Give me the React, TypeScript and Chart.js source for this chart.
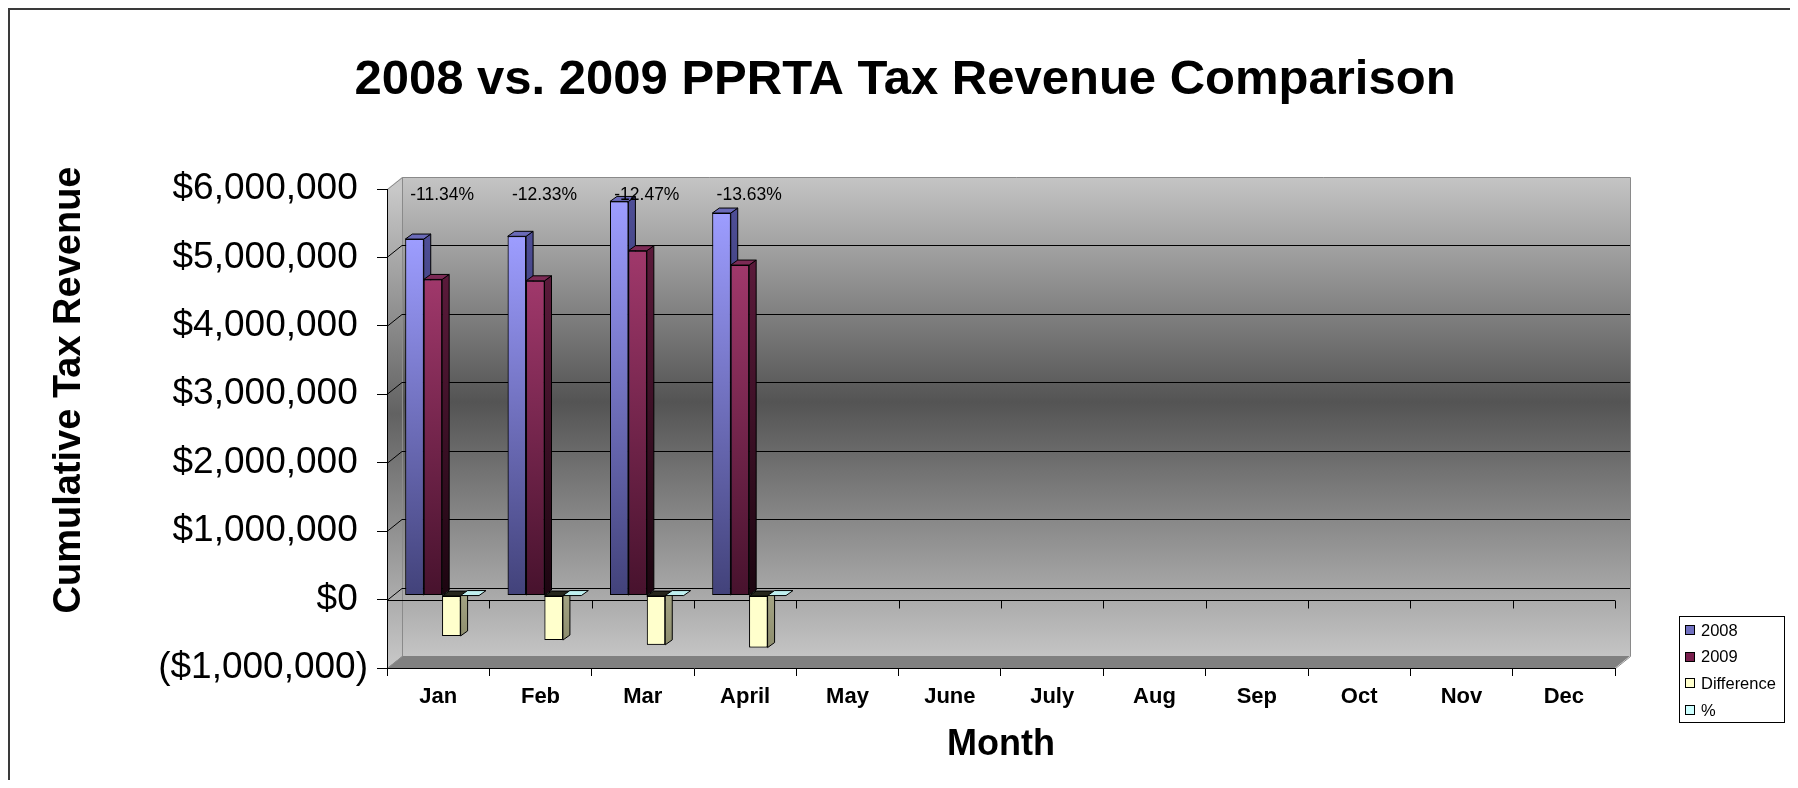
import React, { useEffect, useRef } from 'react';
import { Chart, registerables } from 'chart.js';

Chart.register(...registerables);

const FONT = '"Liberation Sans", Arial, Helvetica, sans-serif';

// ---------- data ----------
const months = ['Jan', 'Feb', 'Mar', 'April', 'May', 'June', 'July', 'Aug', 'Sep', 'Oct', 'Nov', 'Dec'];
const revenue2008 = [5210000, 5250000, 5760000, 5590000, null, null, null, null, null, null, null, null];
const revenue2009 = [4620000, 4600000, 5040000, 4830000, null, null, null, null, null, null, null, null];
const difference = [-590000, -650000, -720000, -760000, null, null, null, null, null, null, null, null];
const percentChange = [-11.34, -12.33, -12.47, -13.63, null, null, null, null, null, null, null, null];
const seriesLabels = ['2008', '2009', 'Difference', '%'];
const yMin = -1000000;
const yMax = 6000000;
const yStep = 1000000;
const chartTitle = '2008 vs. 2009 PPRTA Tax Revenue Comparison';
const yTitle = 'Cumulative Tax Revenue';
const xTitle = 'Month';

// ---------- styles ----------
const DX = 15; // wall depth (px)
const DY = -12;
const BDX = 4; // bar front-face depth shift
const BDY = -4;
const BAR_DX = 7; // bar thickness
const BAR_DY = -5;

const seriesStyles = [
  { front: ['#9d9dff', '#42427a'], side: ['#4e4e96', '#1a1a36'], top: '#6a6ab8', legend: '#7070c0' },
  { front: ['#a0386b', '#47122d'], side: ['#5a1a3a', '#1c0510'], top: '#7c2a55', legend: '#7a1f4d' },
  { front: ['#ffffcc', '#ffffcc'], side: ['#a3a383', '#8e8e6e'], top: '#26261c', legend: '#ffffcc' },
  { front: ['#ccffff', '#ccffff'], side: ['#88aaaa', '#88aaaa'], top: '#bff0f0', legend: '#ccffff' },
];

function frontGradient(idx: number) {
  const [light, dark] = seriesStyles[idx].front;
  return (c: any) => {
    const chart = c.chart;
    if (!chart.chartArea || c.type !== 'data' || c.raw == null) return light;
    const ys = chart.scales.y;
    const yt = ys.getPixelForValue(Math.max(c.raw, 0));
    const yb = ys.getPixelForValue(Math.min(c.raw, 0));
    if (Math.abs(yb - yt) < 1) return light;
    const g = chart.ctx.createLinearGradient(0, yt, 0, yb);
    g.addColorStop(0, light);
    g.addColorStop(1, dark);
    return g;
  };
}

function fmtMoney(v: number) {
  const s = Math.abs(v).toLocaleString('en-US');
  return v < 0 ? '($' + s + ')' : '$' + s + ' ';
}

function drawFaces(ctx: CanvasRenderingContext2D, el: any, style: any) {
  const { x, y, base, width } = el.getProps(['x', 'y', 'base', 'width'], true);
  if (!isFinite(y) || !isFinite(base)) return;
  const l = x - width / 2;
  const r = x + width / 2;
  const t = Math.min(y, base);
  const b = Math.max(y, base);
  ctx.lineWidth = 1;
  ctx.strokeStyle = '#000';
  if (b - t > 0.5) {
    const g = ctx.createLinearGradient(0, t, 0, b);
    g.addColorStop(0, style.side[0]);
    g.addColorStop(1, style.side[1]);
    ctx.fillStyle = g;
    ctx.beginPath();
    ctx.moveTo(r, t);
    ctx.lineTo(r + BAR_DX, t + BAR_DY);
    ctx.lineTo(r + BAR_DX, b + BAR_DY);
    ctx.lineTo(r, b);
    ctx.closePath();
    ctx.fill();
    ctx.stroke();
  }
  ctx.fillStyle = style.top;
  ctx.beginPath();
  ctx.moveTo(l, t);
  ctx.lineTo(l + BAR_DX, t + BAR_DY);
  ctx.lineTo(r + BAR_DX, t + BAR_DY);
  ctx.lineTo(r, t);
  ctx.closePath();
  ctx.fill();
  ctx.stroke();
}

const wallPlugin = {
  id: 'wall3d',
  beforeDraw(chart: any) {
    const { ctx, chartArea: a, scales } = chart;
    const ys = scales.y;
    ctx.save();
    // outer frame
    ctx.strokeStyle = '#3a3a3a';
    ctx.lineWidth = 2;
    ctx.strokeRect(1, 1, chart.width - 2, chart.height - 2);

    // back wall
    const g = ctx.createLinearGradient(0, a.top + DY, 0, a.bottom + DY);
    g.addColorStop(0, '#c4c4c4');
    g.addColorStop(0.47, '#545454');
    g.addColorStop(1, '#c4c4c4');
    ctx.fillStyle = g;
    ctx.fillRect(a.left + DX, a.top + DY, a.right - a.left, a.bottom - a.top);

    // left side wall
    const g2 = ctx.createLinearGradient(0, a.top, 0, a.bottom);
    g2.addColorStop(0, '#c8c8c8');
    g2.addColorStop(0.47, '#626262');
    g2.addColorStop(1, '#c8c8c8');
    ctx.fillStyle = g2;
    ctx.beginPath();
    ctx.moveTo(a.left, a.top);
    ctx.lineTo(a.left + DX, a.top + DY);
    ctx.lineTo(a.left + DX, a.bottom + DY);
    ctx.lineTo(a.left, a.bottom);
    ctx.closePath();
    ctx.fill();

    // floor
    ctx.fillStyle = '#808080';
    ctx.beginPath();
    ctx.moveTo(a.left, a.bottom);
    ctx.lineTo(a.left + DX, a.bottom + DY);
    ctx.lineTo(a.right + DX, a.bottom + DY);
    ctx.lineTo(a.right, a.bottom);
    ctx.closePath();
    ctx.fill();

    // wall edges
    ctx.strokeStyle = '#8a8a8a';
    ctx.lineWidth = 1;
    ctx.beginPath();
    ctx.moveTo(a.left + 0.5, a.top + 0.5);
    ctx.lineTo(a.left + DX + 0.5, a.top + DY + 0.5);
    ctx.lineTo(a.right + DX + 0.5, a.top + DY + 0.5);
    ctx.lineTo(a.right + DX + 0.5, a.bottom + DY + 0.5);
    ctx.lineTo(a.right + 0.5, a.bottom + 0.5);
    ctx.moveTo(a.left + DX + 0.5, a.top + DY + 0.5);
    ctx.lineTo(a.left + DX + 0.5, a.bottom + DY + 0.5);
    ctx.lineTo(a.left + 0.5, a.bottom + 0.5);
    ctx.stroke();

    // gridlines on side and back walls
    ctx.strokeStyle = '#000';
    ctx.beginPath();
    ys.ticks.forEach((t: any) => {
      if (t.value <= yMin || t.value >= yMax) return;
      const py = Math.round(ys.getPixelForValue(t.value)) + 0.5;
      ctx.moveTo(a.left, py);
      ctx.lineTo(a.left + DX, py + DY);
      ctx.lineTo(a.right + DX, py + DY);
    });
    ctx.stroke();

    // chart title
    ctx.fillStyle = '#000';
    ctx.font = `bold 49px ${FONT}`;
    ctx.textAlign = 'center';
    ctx.textBaseline = 'middle';
    ctx.fillText(chartTitle, chart.width / 2, 72);

    // y axis title
    ctx.font = `bold 38px ${FONT}`;
    ctx.translate(62, 382);
    ctx.rotate(-Math.PI / 2);
    ctx.fillText(yTitle, 0, 0);
    ctx.restore();
  },
  beforeDatasetsDraw(chart: any) {
    const { ctx, chartArea: a, scales } = chart;
    const ys = scales.y;
    const xs = scales.x;
    ctx.save();
    // front zero axis with category ticks
    const y0 = Math.round(ys.getPixelForValue(0)) + 0.5;
    ctx.strokeStyle = '#000';
    ctx.lineWidth = 1;
    ctx.beginPath();
    ctx.moveTo(a.left, y0);
    ctx.lineTo(a.right, y0);
    const n = chart.data.labels.length;
    const cw = (xs.right - xs.left) / n;
    for (let i = 0; i <= n; i++) {
      const bx = Math.round(xs.left + i * cw) + 0.5;
      ctx.moveTo(bx, y0);
      ctx.lineTo(bx, y0 + 8);
    }
    ctx.stroke();
    ctx.restore();
    ctx.save();
    ctx.translate(BDX, BDY);
  },
  afterDatasetsDraw(chart: any) {
    const { ctx } = chart;
    // redraw in left-to-right order so that each column hides the sides of its left neighbour
    const metas = chart.data.datasets.map((_: any, i: number) => chart.getDatasetMeta(i));
    const n = chart.data.labels.length;
    for (let c = 0; c < n; c++) {
      metas.forEach((meta: any, j: number) => {
        if (chart.data.datasets[j].data[c] == null) return;
        const el = meta.data[c];
        if (!el) return;
        ctx.save();
        el.draw(ctx);
        ctx.restore();
        ctx.save();
        drawFaces(ctx, el, seriesStyles[j]);
        ctx.restore();
      });
    }
    ctx.restore();
  },
  afterDraw(chart: any) {
    const { ctx, chartArea: a, scales } = chart;
    const xs = scales.x;
    // percent labels
    ctx.save();
    ctx.fillStyle = '#000';
    ctx.font = `17.5px ${FONT}`;
    ctx.textAlign = 'center';
    ctx.textBaseline = 'middle';
    percentChange.forEach((p, i) => {
      if (p == null) return;
      ctx.fillText(p.toFixed(2) + '%', xs.getPixelForValue(i) + BDX, a.top + 6);
    });
    ctx.restore();

    // legend
    ctx.save();
    const lx = 1671;
    const ly = 608;
    ctx.fillStyle = '#fff';
    ctx.fillRect(lx, ly, 105, 106);
    ctx.strokeStyle = '#000';
    ctx.lineWidth = 1;
    ctx.strokeRect(lx + 0.5, ly + 0.5, 105, 106);
    ctx.font = `16.5px ${FONT}`;
    ctx.textBaseline = 'middle';
    ctx.textAlign = 'left';
    chart.data.datasets.forEach((ds: any, i: number) => {
      const cy = ly + 14 + i * 26.7;
      ctx.fillStyle = seriesStyles[i].legend;
      ctx.fillRect(lx + 6, Math.round(cy - 5), 10, 10);
      ctx.strokeStyle = '#000';
      ctx.strokeRect(lx + 6.5, Math.round(cy - 5) + 0.5, 9, 9);
      ctx.fillStyle = '#000';
      ctx.fillText(ds.label, lx + 22, cy + 1);
    });
    ctx.restore();
  },
};

export default function App() {
  const ref = useRef<HTMLCanvasElement | null>(null);
  useEffect(() => {
    if (!ref.current) return;
    const series = [revenue2008, revenue2009, difference, percentChange.map((p) => (p == null ? null : p / 100))];
    const chart = new Chart(ref.current, {
      type: 'bar',
      data: {
        labels: months,
        datasets: series.map((d, i) => ({
          label: seriesLabels[i],
          data: d as any,
          backgroundColor: frontGradient(i) as any,
          borderColor: '#000',
          borderWidth: 1,
          borderSkipped: false,
          categoryPercentage: 0.72,
          barPercentage: 1.0,
        })),
      },
      options: {
        responsive: false,
        animation: false,
        layout: { padding: { left: 0, right: 187, top: 181, bottom: 0 } },
        plugins: {
          legend: { display: false },
          tooltip: { enabled: false },
          title: { display: false },
        },
        scales: {
          x: {
            offset: true,
            grid: { offset: true, drawOnChartArea: false, drawTicks: true, tickLength: 8, color: '#000', lineWidth: 1 },
            border: { display: true, color: '#000', width: 1 },
            ticks: { color: '#000', font: { family: FONT, size: 22, weight: 'bold' }, padding: 8, maxRotation: 0, autoSkip: false },
            title: { display: true, text: xTitle, color: '#000', font: { family: FONT, size: 36, weight: 'bold' }, padding: { top: 0, bottom: 41 } },
            afterFit: (s: any) => {
              s.height = 140;
            },
          },
          y: {
            min: yMin,
            max: yMax,
            grid: { drawOnChartArea: false, drawTicks: true, tickLength: 10, color: '#000', lineWidth: 1 },
            border: { display: true, color: '#000', width: 1 },
            ticks: {
              stepSize: yStep,
              color: '#000',
              padding: 9,
              font: { family: FONT, size: 37 },
              callback: (v: any) => fmtMoney(Number(v)),
            },
            afterFit: (s: any) => {
              s.width = 379;
            },
          },
        },
      } as any,
      plugins: [wallPlugin as any],
    });
    return () => chart.destroy();
  }, []);
  return (
    <div style={{ width: 1782, height: 772, overflow: 'hidden' }}>
      <canvas ref={ref} width={1794} height={800} style={{ display: 'block' }} />
    </div>
  );
}
